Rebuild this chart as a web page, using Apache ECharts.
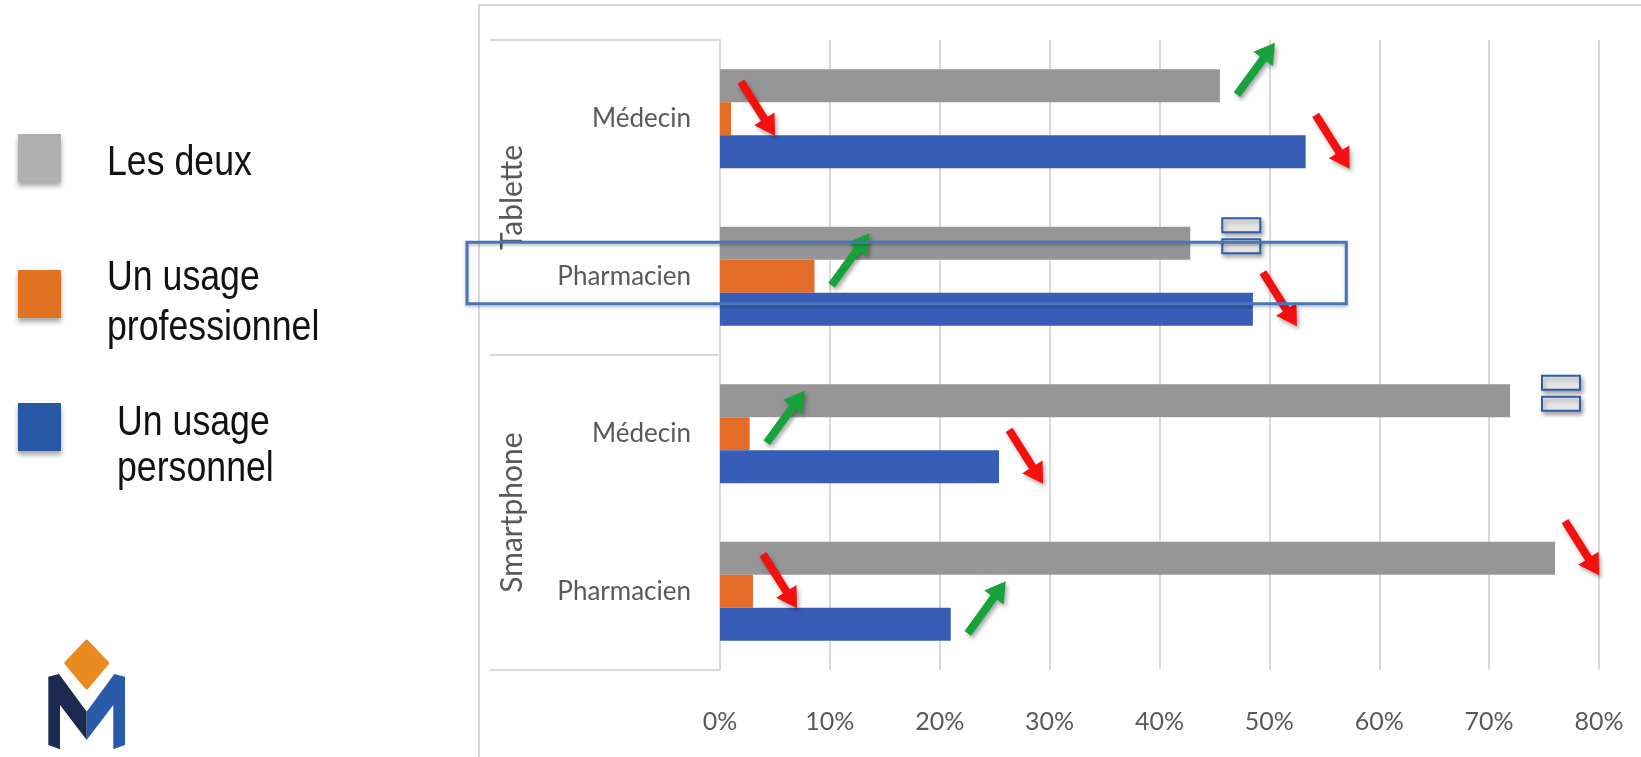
<!DOCTYPE html>
<html>
<head>
<meta charset="utf-8">
<script src="https://cdn.jsdelivr.net/npm/echarts@6/dist/echarts.min.js"></script>
<style>
  html, body { margin: 0; padding: 0; background: #ffffff; }
  #chart { width: 1641px; height: 757px; }
</style>
</head>
<body>
<div id="chart"></div>
<script>
// Device groups and professions (rows, top to bottom)
const devices = ['Tablette', 'Smartphone'];
const professions = ['Médecin', 'Pharmacien'];
const rows = devices.flatMap(d => professions.map(p => d + '|' + p));

// Shares (%) per row
const lesDeux    = [45.5, 42.8, 71.9, 76.0];
const usagePro   = [1.0, 8.6, 2.7, 3.0];
const usagePerso = [53.3, 48.5, 25.4, 21.0];

// Trend vs previous survey: 1 = up, -1 = down, 0 = stable
const trendDeux  = [1, 0, 0, -1];
const trendPro   = [-1, 1, 1, -1];
const trendPerso = [-1, -1, -1, 1];

const seriesNames = ['Les deux', 'Un usage professionnel', 'Un usage personnel'];
const legendLines = [['Les deux'], ['Un usage', 'professionnel'], ['Un usage', 'personnel']];

// Highlighted row and the value the frame reaches to
const highlightRow = 'Tablette|Pharmacien';
const highlightTo = 57;

const barColors = ['#969696', '#E46C29', '#385DB6'];
const swatchColors = ['#B0B0B0', '#E07222', '#2858A5'];
const AXIS_FONT = "Lato, 'Liberation Sans', sans-serif";
const CAT_GAP = 0.37;

const chart = echarts.init(document.getElementById('chart'), null, { renderer: 'canvas' });

function arrowPoints(x1, y1, x2, y2, shaft, headW, headL) {
  const dx = x2 - x1, dy = y2 - y1, len = Math.hypot(dx, dy);
  const ux = dx / len, uy = dy / len, nx = -uy, ny = ux;
  const bx = x2 - ux * headL, by = y2 - uy * headL;
  return [
    [x1 + nx * shaft / 2, y1 + ny * shaft / 2],
    [bx + nx * shaft / 2, by + ny * shaft / 2],
    [bx + nx * headW / 2, by + ny * headW / 2],
    [x2, y2],
    [bx - nx * headW / 2, by - ny * headW / 2],
    [bx - nx * shaft / 2, by - ny * shaft / 2],
    [x1 - nx * shaft / 2, y1 - ny * shaft / 2]
  ];
}

// Trend markers placed just past each bar's end
function renderTrend(params, api) {
  const v = api.value(0), row = api.value(1), slot = api.value(2), t = api.value(3);
  const end = api.coord([v, row]);
  const band = api.size([0, 1])[1];
  const barH = band * (1 - CAT_GAP) / 3;
  const x = end[0], y = end[1] + (slot - 1) * barH;
  const shadow = { shadowBlur: 4, shadowOffsetX: 2, shadowOffsetY: 3, shadowColor: 'rgba(0,0,0,0.35)' };
  if (t === 0) {
    const left = x + 32, cy = y - 7;
    const boxStyle = Object.assign({ fill: 'rgba(236,236,236,0.9)', stroke: '#2F5DA8', lineWidth: 2 }, shadow);
    return { type: 'group', children: [
      { type: 'rect', shape: { x: left, y: cy - 18, width: 38, height: 14 }, style: boxStyle },
      { type: 'rect', shape: { x: left, y: cy + 3, width: 38, height: 14 }, style: boxStyle }
    ]};
  }
  const pts = t < 0
    ? arrowPoints(x + 10, y - 37, x + 44, y + 17, 8, 24, 20)
    : arrowPoints(x + 17, y + 9, x + 55, y - 43, 8, 24, 20);
  return {
    type: 'polygon',
    shape: { points: pts },
    style: Object.assign({ fill: t < 0 ? '#F50F0F' : '#17A23C' }, shadow)
  };
}

const trendData = [];
[trendDeux, trendPro, trendPerso].forEach((trend, slot) => {
  const vals = [lesDeux, usagePro, usagePerso][slot];
  trend.forEach((t, i) => trendData.push([vals[i], i, slot, t]));
});

chart.setOption({
  animation: false,
  backgroundColor: '#ffffff',
  grid: { left: 720, right: 42, top: 40, bottom: 87, containLabel: false },
  xAxis: {
    type: 'value', min: 0, max: 80, interval: 10,
    axisLine: { show: false }, axisTick: { show: false },
    axisLabel: { formatter: '{value}%', color: '#595959', fontSize: 25, fontFamily: AXIS_FONT, margin: 39 },
    splitLine: { show: true, lineStyle: { color: '#D9D9D9', width: 2 } }
  },
  yAxis: {
    type: 'category', inverse: true, data: rows,
    axisLine: { show: true, lineStyle: { color: '#D9D9D9', width: 2 } },
    axisTick: { show: false },
    axisLabel: {
      formatter: v => v.split('|')[1],
      color: '#595959', fontSize: 26, fontFamily: AXIS_FONT, margin: 29
    }
  },
  series: [
    { name: seriesNames[0], type: 'bar', data: lesDeux, itemStyle: { color: barColors[0] },
      barGap: '0%', barCategoryGap: (CAT_GAP * 100) + '%' },
    { name: seriesNames[1], type: 'bar', data: usagePro, itemStyle: { color: barColors[1] },
      barGap: '0%', barCategoryGap: (CAT_GAP * 100) + '%' },
    { name: seriesNames[2], type: 'bar', data: usagePerso, itemStyle: { color: barColors[2] },
      barGap: '0%', barCategoryGap: (CAT_GAP * 100) + '%' },
    { type: 'custom', renderItem: renderTrend, data: trendData, clip: false, z: 10,
      encode: { x: 0, y: 1 }, silent: true }
  ]
});

// Pixel positions from the axes for dividers, group titles and the highlight frame
const px = (v, r) => chart.convertToPixel({ gridIndex: 0 }, [v, r]);
const band = px(0, 1)[1] - px(0, 0)[1];
const axisX = px(0, 0)[0];
const graphics = [];

// outer frame
graphics.push({ type: 'rect', shape: { x: 479, y: 5, width: 1300, height: 900 },
  style: { fill: null, stroke: '#D9D9D9', lineWidth: 2 }, z: 0, silent: true });

// group dividers and rotated group titles
devices.forEach((d, gi) => {
  const first = gi * professions.length;
  const last = first + professions.length - 1;
  const top = px(0, first)[1] - band / 2;
  const bottom = px(0, last)[1] + band / 2;
  [top, bottom].forEach(yy => graphics.push({
    type: 'line', shape: { x1: 490, y1: yy, x2: axisX, y2: yy },
    style: { stroke: '#D9D9D9', lineWidth: 2 }, silent: true
  }));
  graphics.push({
    type: 'text', x: 512, y: (top + bottom) / 2, rotation: Math.PI / 2,
    style: { text: d, x: 0, y: 0, align: 'center', verticalAlign: 'middle',
      fill: '#595959', font: "30px Lato, 'Liberation Sans', sans-serif" }, silent: true
  });
});

// highlight frame
const hi = rows.indexOf(highlightRow);
const hc = px(highlightTo, hi);
graphics.push({
  type: 'rect', z: 20,
  shape: { x: 467, y: hc[1] - 34, width: hc[0] - 467, height: 61.5 },
  style: { fill: null, stroke: '#4677BD', lineWidth: 3,
    shadowBlur: 3, shadowOffsetY: 2, shadowColor: 'rgba(0,0,0,0.25)' }, silent: true
});

// legend
const swatchTops = [134, 270, 403];
const textX = [107, 107, 117];
const lineY = [[163.5], [278, 328], [423, 469]];
seriesNames.forEach((n, i) => {
  graphics.push({
    type: 'rect', shape: { x: 18, y: swatchTops[i], width: 43, height: 48 },
    style: { fill: swatchColors[i], shadowBlur: 5, shadowOffsetY: 4, shadowColor: 'rgba(0,0,0,0.35)' },
    silent: true
  });
  legendLines[i].forEach((line, j) => graphics.push({
    type: 'text', x: textX[i], y: lineY[i][j], scaleX: 0.85,
    style: { text: line, x: 0, y: 0, align: 'left', verticalAlign: 'middle', fill: '#111111',
      font: "42px 'Liberation Sans', sans-serif" }, silent: true
  }));
});

// logo
graphics.push({
  type: 'group', silent: true, children: [
    { type: 'polygon', shape: { points: [[86.7, 641], [107.7, 663], [86.7, 688], [65.7, 663]] },
      style: { fill: '#EA8A1F', lineJoin: 'round', stroke: '#EA8A1F', lineWidth: 3 } },
    { type: 'polygon', shape: { points: [[48.3, 676.7], [59, 674], [86.7, 711.7], [86.7, 740], [60, 705], [60, 749.3], [48.3, 745]] },
      style: { fill: '#1C2A4F' } },
    { type: 'polygon', shape: { points: [[125, 676.7], [114.3, 674], [86.7, 711.7], [86.7, 740], [113.3, 705], [113.3, 749.3], [125, 745]] },
      style: { fill: '#2A5BA8' } }
  ]
});

chart.setOption({ graphic: graphics });
</script>
</body>
</html>
